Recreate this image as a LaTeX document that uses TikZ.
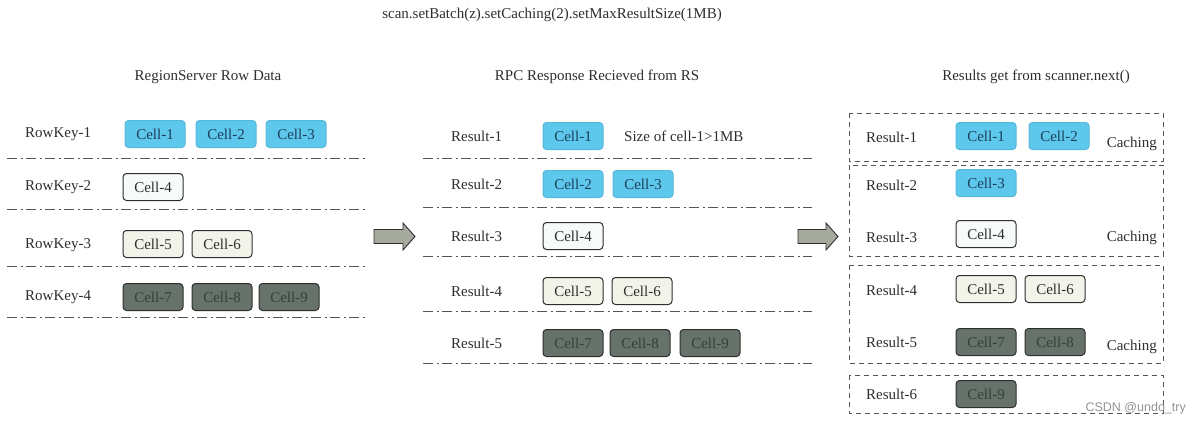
\documentclass[tikz,border=0pt]{standalone}
\usepackage{fontspec}
\setmainfont{Liberation Serif}
\setsansfont{Liberation Sans}
\definecolor{cblue}{HTML}{5EC8EC}
\definecolor{cbluetext}{HTML}{1D3F5C}
\definecolor{cwhite}{HTML}{F6FAF9}
\definecolor{ccream}{HTML}{F3F4E9}
\definecolor{cdark}{HTML}{66726A}
\definecolor{cdarktext}{HTML}{36403A}
\definecolor{cborder}{HTML}{2E2E2E}
\definecolor{ctext}{HTML}{2E2E2E}
\definecolor{cline}{HTML}{555555}
\definecolor{carrow}{HTML}{A6AA9E}
\begin{document}
\begin{tikzpicture}[x=1pt,y=-1pt,
  font=\fontsize{15}{17}\selectfont, text=ctext,
  cell/.style={rounded corners=3.5pt, minimum width=60pt, minimum height=27pt, inner sep=0pt, line width=1pt},
  bluecell/.style={cell, fill=cblue, draw=cblue!92!black, text=cbluetext},
  whitecell/.style={cell, fill=cwhite, draw=cborder},
  creamcell/.style={cell, fill=ccream, draw=cborder},
  darkcell/.style={cell, fill=cdark, draw=cborder, text=cdarktext},
  lab/.style={anchor=west, inner sep=0pt},
  title/.style={inner sep=0pt},
  sep/.style={cline, line width=0.9pt, dash pattern=on 10pt off 3.5pt on 2pt off 3.5pt},
  grp/.style={cline, line width=0.9pt, dash pattern=on 5pt off 4pt},
  blockarrow/.style={draw=cborder, fill=carrow, line width=0.9pt, line join=miter}
]
\useasboundingbox (0,0) rectangle (1201,424);

% Header
\node[title] (hdr) at (552,15) {scan.setBatch(z).setCaching(2).setMaxResultSize(1MB)};

% Titles
\node[title] (t1) at (208,77) {RegionServer Row Data};
\node[title] (t2) at (597,77) {RPC Response Recieved from RS};
\node[title] (t3) at (1036,77) {Results get from scanner.next()};

% ---- Left panel ----
\node[lab] (rk1) at (25,134) {RowKey-1};
\node[lab] (rk2) at (25,187) {RowKey-2};
\node[lab] (rk3) at (25,245) {RowKey-3};
\node[lab] (rk4) at (25,297) {RowKey-4};

\node[bluecell] (l1) at (155,134) {Cell-1};
\node[bluecell] (l2) at (226,134) {Cell-2};
\node[bluecell] (l3) at (296,134) {Cell-3};
\node[whitecell] (l4) at (153,187) {Cell-4};
\node[creamcell] (l5) at (153,244) {Cell-5};
\node[creamcell] (l6) at (222,244) {Cell-6};
\node[darkcell] (l7) at (153,297) {Cell-7};
\node[darkcell] (l8) at (222,297) {Cell-8};
\node[darkcell] (l9) at (289,297) {Cell-9};

\foreach \yy in {158,209,266,317} \draw[sep] (7,\yy) -- (368,\yy);

% Arrow 1
\draw[blockarrow] (374,229.5) -- (403,229.5) -- (403,223) -- (415,236.5) -- (403,250) -- (403,243.5) -- (374,243.5) -- cycle;

% ---- Middle panel ----
\node[lab] (m1) at (451,136) {Result-1};
\node[lab] (m2) at (451,184) {Result-2};
\node[lab] (m3) at (451,236) {Result-3};
\node[lab] (m4) at (451,291) {Result-4};
\node[lab] (m5) at (451,343) {Result-5};

\node[bluecell] (c1) at (573,136) {Cell-1};
\node[lab] (note) at (624,136) {Size of cell-1>1MB};
\node[bluecell] (c2) at (573,184) {Cell-2};
\node[bluecell] (c3) at (643,184) {Cell-3};
\node[whitecell] (c4) at (573,236) {Cell-4};
\node[creamcell] (c5) at (573,291) {Cell-5};
\node[creamcell] (c6) at (642,291) {Cell-6};
\node[darkcell] (c7) at (573,343) {Cell-7};
\node[darkcell] (c8) at (640,343) {Cell-8};
\node[darkcell] (c9) at (710,343) {Cell-9};

\foreach \yy in {158,207,256,311,363} \draw[sep] (423,\yy) -- (812,\yy);

% Arrow 2
\draw[blockarrow] (798,229.5) -- (826,229.5) -- (826,223) -- (838,236.5) -- (826,250) -- (826,243.5) -- (798,243.5) -- cycle;

% ---- Right panel ----
\draw[grp] (849,113) rectangle (1163,161);
\draw[grp] (849,165) rectangle (1163,256);
\draw[grp] (849,265) rectangle (1163,363);
\draw[grp] (849,375) rectangle (1163,413);

\node[lab] (r1) at (866,137) {Result-1};
\node[lab] (r2) at (866,185) {Result-2};
\node[lab] (r3) at (866,237) {Result-3};
\node[lab] (r4) at (866,290) {Result-4};
\node[lab] (r5) at (866,342) {Result-5};
\node[lab] (r6) at (866,394) {Result-6};

\node[bluecell] (s1) at (986,136) {Cell-1};
\node[bluecell] (s2) at (1059,136) {Cell-2};
\node[bluecell] (s3) at (986,183) {Cell-3};
\node[whitecell] (s4) at (986,234) {Cell-4};
\node[creamcell] (s5) at (986,289) {Cell-5};
\node[creamcell] (s6) at (1055,289) {Cell-6};
\node[darkcell] (s7) at (986,342) {Cell-7};
\node[darkcell] (s8) at (1055,342) {Cell-8};
\node[darkcell] (s9) at (986,394) {Cell-9};

\node[anchor=east, inner sep=0pt] (k1) at (1157,144) {Caching};
\node[anchor=east, inner sep=0pt] (k2) at (1157,238) {Caching};
\node[anchor=east, inner sep=0pt] (k3) at (1157,347) {Caching};

% Watermark
\node[anchor=east, inner sep=0pt, text=gray!85, font=\sffamily\fontsize{12.5}{14}\selectfont] (wm) at (1186,408) {CSDN @undo\_try};
\end{tikzpicture}
\end{document}
